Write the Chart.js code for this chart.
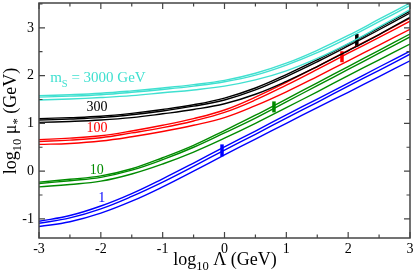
<!DOCTYPE html>
<html>
<head>
<meta charset="utf-8">
<script src="https://cdn.jsdelivr.net/npm/chart.js@4.4.1/dist/chart.umd.min.js"></script>
<style>
  html, body { margin: 0; padding: 0; background: #fff; }
  #wrap { width: 415px; height: 277px; position: relative; }
</style>
</head>
<body>
<div id="wrap"><canvas id="chart" width="415" height="277"></canvas></div>
<script>
/* data: log10 Λ on x, log10 μ* on y */
const xs = [-3, -2.5, -2, -1.5, -1, -0.5, 0, 0.5, 1, 1.5, 2, 2.5, 3];

const cyanA = [1.58, 1.60, 1.63, 1.68, 1.74, 1.81, 1.90, 2.05, 2.26, 2.53, 2.84, 3.18, 3.52];
const cyanB = [1.55, 1.57, 1.60, 1.65, 1.71, 1.78, 1.87, 2.01, 2.22, 2.48, 2.79, 3.13, 3.47];
const cyanC = [1.49, 1.51, 1.54, 1.58, 1.64, 1.70, 1.78, 1.91, 2.10, 2.36, 2.67, 3.02, 3.38];

const blackA = [1.10, 1.12, 1.15, 1.21, 1.29, 1.39, 1.53, 1.74, 2.02, 2.33, 2.66, 3.00, 3.35];
const blackB = [1.07, 1.09, 1.12, 1.18, 1.26, 1.36, 1.49, 1.70, 1.98, 2.29, 2.62, 2.96, 3.31];
const blackC = [1.02, 1.04, 1.07, 1.12, 1.20, 1.29, 1.41, 1.61, 1.88, 2.19, 2.52, 2.86, 3.22];

const redA = [0.66, 0.69, 0.74, 0.84, 0.96, 1.10, 1.28, 1.55, 1.86, 2.19, 2.53, 2.86, 3.20];
const redB = [0.62, 0.65, 0.70, 0.80, 0.91, 1.05, 1.23, 1.49, 1.80, 2.13, 2.47, 2.80, 3.14];
const redC = [0.56, 0.58, 0.63, 0.72, 0.83, 0.96, 1.12, 1.37, 1.66, 1.98, 2.31, 2.64, 2.97];

const greenA = [-0.23, -0.17, -0.10, 0.05, 0.28, 0.54, 0.85, 1.17, 1.51, 1.85, 2.19, 2.53, 2.87];
const greenB = [-0.26, -0.20, -0.13, 0.02, 0.24, 0.50, 0.80, 1.11, 1.45, 1.79, 2.13, 2.47, 2.81];
const greenC = [-0.33, -0.28, -0.21, -0.06, 0.15, 0.40, 0.69, 1.00, 1.33, 1.66, 2.00, 2.33, 2.66];

const blueA = [-1.05, -0.93, -0.73, -0.47, -0.16, 0.17, 0.51, 0.84, 1.18, 1.51, 1.84, 2.18, 2.51];
const blueB = [-1.09, -0.98, -0.79, -0.53, -0.23, 0.10, 0.44, 0.77, 1.11, 1.44, 1.78, 2.11, 2.45];
const blueC = [-1.16, -1.06, -0.88, -0.63, -0.33, 0.00, 0.34, 0.67, 1.00, 1.33, 1.65, 1.98, 2.31];

// short thick vertical marks on four of the families
const markX = [-0.04, 0.80, 1.90, 2.14];
const markLo = [0.31, 1.23, 2.28, 2.61];
const markHi = [0.56, 1.46, 2.51, 2.87];

// curve labels (text, data x of left edge, data y of baseline)
const labelText = ["3000", "300", "100", "10", "1"];
const labelX = [-2.82, -2.23, -2.23, -2.18, -2.04];
const labelY = [1.86, 1.25, 0.81, -0.07, -0.64];

const xTicks = [-3, -2, -1, 0, 1, 2, 3];
const yTicks = [-1, 0, 1, 2, 3];

const COLORS = { cyan: "#40e0d0", black: "#000000", red: "#ff0000", green: "#008b00", blue: "#0000ff" };
const FONT = "'Liberation Serif', 'DejaVu Serif', serif";

function line(ys, color) {
  return {
    data: xs.map((x, i) => ({ x: x, y: ys[i] })),
    borderColor: color,
    borderWidth: 1.4,
    pointRadius: 0,
    tension: 0.4,
    fill: false,
  };
}

const markColors = [COLORS.blue, COLORS.green, COLORS.red, COLORS.black];
const markSets = markX.map((x, i) => ({
  data: [{ x: x, y: markLo[i] }, { x: x, y: markHi[i] }],
  borderColor: markColors[i],
  borderWidth: 3.5,
  borderCapStyle: "butt",
  pointRadius: 0,
}));

const datasets = [
  line(cyanA, COLORS.cyan), line(cyanB, COLORS.cyan), line(cyanC, COLORS.cyan),
  line(blackA, COLORS.black), line(blackB, COLORS.black), line(blackC, COLORS.black),
  line(redA, COLORS.red), line(redB, COLORS.red), line(redC, COLORS.red),
  line(greenA, COLORS.green), line(greenB, COLORS.green), line(greenC, COLORS.green),
  line(blueA, COLORS.blue), line(blueB, COLORS.blue), line(blueC, COLORS.blue),
  ...markSets,
];

/* text with subscripts: parts = [[text, isSub], ...] */
function richWidth(ctx, parts, size) {
  let w = 0;
  parts.forEach(([t, sub]) => {
    ctx.font = (sub ? size * 0.7 : size) + "px " + FONT;
    w += ctx.measureText(t).width;
  });
  return w;
}
function drawRich(ctx, parts, x, y, size) {
  parts.forEach(([t, sub]) => {
    ctx.font = (sub ? size * 0.7 : size) + "px " + FONT;
    ctx.fillText(t, x, sub ? y + size * 0.3 : y);
    x += ctx.measureText(t).width;
  });
}

const decorations = {
  id: "decorations",
  afterDraw(chart) {
    const { ctx, chartArea: a, scales } = chart;
    const sx = scales.x, sy = scales.y;
    ctx.save();

    // frame
    ctx.strokeStyle = "#444";
    ctx.lineWidth = 1.5;
    ctx.strokeRect(a.left, a.top, a.right - a.left, a.bottom - a.top);

    // inward ticks on all four sides
    ctx.lineWidth = 1.2;
    ctx.beginPath();
    for (let v = -3; v <= 3.001; v += 0.5) {
      const px = sx.getPixelForValue(v);
      const len = Number.isInteger(v) ? 6 : 3.5;
      ctx.moveTo(px, a.bottom); ctx.lineTo(px, a.bottom - len);
      ctx.moveTo(px, a.top); ctx.lineTo(px, a.top + len);
    }
    for (let v = -1; v <= 3.501; v += 0.5) {
      const py = sy.getPixelForValue(v);
      const len = Number.isInteger(v) ? 6 : 3.5;
      ctx.moveTo(a.left, py); ctx.lineTo(a.left + len, py);
      ctx.moveTo(a.right, py); ctx.lineTo(a.right - len, py);
    }
    ctx.stroke();

    // tick labels
    ctx.fillStyle = "#000";
    ctx.font = "14px " + FONT;
    ctx.textAlign = "center";
    ctx.textBaseline = "top";
    xTicks.forEach((v) => ctx.fillText(String(v), sx.getPixelForValue(v), a.bottom + 4));
    ctx.textAlign = "right";
    ctx.textBaseline = "middle";
    yTicks.forEach((v) => ctx.fillText(String(v), a.left - 5, sy.getPixelForValue(v)));

    // curve labels
    ctx.textBaseline = "alphabetic";
    ctx.textAlign = "left";
    const labelColors = [COLORS.cyan, COLORS.black, COLORS.red, COLORS.green, COLORS.blue];
    labelText.forEach((t, i) => {
      const px = sx.getPixelForValue(labelX[i]);
      const py = sy.getPixelForValue(labelY[i]);
      ctx.fillStyle = labelColors[i];
      if (i === 0) {
        drawRich(ctx, [["m", false], ["S", true], [" = " + t + " GeV", false]], px, py, 15);
      } else {
        ctx.font = "14px " + FONT;
        ctx.fillText(t, px, py);
      }
    });

    // axis titles
    ctx.fillStyle = "#000";
    const xt = [["log", false], ["10", true], [" \u039b (GeV)", false]];
    const xw = richWidth(ctx, xt, 18);
    drawRich(ctx, xt, 225 - xw / 2, 265, 18);

    const yt = [["log", false], ["10", true], [" \u03bc", false], ["*", true], [" (GeV)", false]];
    const yw = richWidth(ctx, yt, 18);
    ctx.translate(16, 121);
    ctx.rotate(-Math.PI / 2);
    drawRich(ctx, yt, -yw / 2, 0, 18);
    ctx.restore();
  },
};

new Chart(document.getElementById("chart"), {
  type: "line",
  data: { datasets },
  options: {
    responsive: false,
    animation: false,
    events: [],
    layout: { padding: { top: 3, right: 5, left: 0, bottom: 0 } },
    plugins: { legend: { display: false }, tooltip: { enabled: false } },
    scales: {
      x: {
        type: "linear",
        min: -3,
        max: 3,
        grid: { display: false, drawTicks: false },
        border: { display: false },
        afterBuildTicks: (s) => { s.ticks = xTicks.map((v) => ({ value: v })); },
        afterFit: (s) => { s.height = 39; },
        ticks: { display: false },
      },
      y: {
        type: "linear",
        min: -1.4,
        max: 3.52,
        grid: { display: false, drawTicks: false },
        border: { display: false },
        afterBuildTicks: (s) => { s.ticks = yTicks.map((v) => ({ value: v })); },
        afterFit: (s) => { s.width = 39; },
        ticks: { display: false },
      },
    },
  },
  plugins: [decorations],
});
</script>
</body>
</html>
